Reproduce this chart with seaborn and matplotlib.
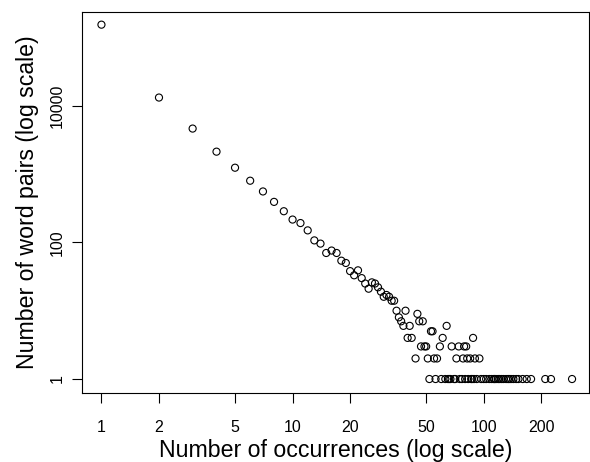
import matplotlib
matplotlib.use("Agg")
import matplotlib.pyplot as plt
import seaborn as sns
import pandas as pd
import numpy as np

# occurrences (x) and number of word pairs (y)
occ_main = list(range(1, 40))
pairs_main = [154000, 13200, 4640, 2130, 1240, 800, 557, 392, 286, 216,
              192, 150, 107, 96, 70, 76, 70, 54, 50, 38,
              33, 39, 30, 25, 21, 26, 25, 22, 19, 16,
              17, 16, 14, 14, 10, 8, 7, 6, 10]
occ_mid = [40, 41, 42, 44, 45, 46, 47, 48, 49, 50, 51, 53, 54, 55, 57, 59,
           61, 64, 68, 72, 74, 78, 79, 81, 82, 85, 88, 90, 95]
pairs_mid = [4, 6, 4, 2, 9, 7, 3, 7, 3, 3, 2, 5, 5, 2, 2, 3,
             4, 6, 3, 2, 3, 2, 3, 3, 2, 2, 4, 2, 2]
occ_single = [52, 56, 60, 63, 65, 66, 67, 70, 71, 75, 77, 80, 83, 86, 87, 89,
              92, 97, 100, 103, 107, 110, 113, 114, 116, 119, 121, 124, 127,
              131, 134, 136, 139, 143, 148, 152, 160, 168, 177, 210, 225, 290]
pairs_single = [1] * len(occ_single)

x_ticks = [1, 2, 5, 10, 20, 50, 100, 200]
y_ticks = [1, 100, 10000]
x_label = "Number of occurrences (log scale)"
y_label = "Number of word pairs (log scale)"

df = pd.DataFrame({
    "occ": occ_main + occ_mid + occ_single,
    "pairs": pairs_main + pairs_mid + pairs_single,
})

sns.set_style("white")
plt.rcParams["font.family"] = ["Liberation Sans", "DejaVu Sans"]
plt.rcParams["text.color"] = "black"
plt.rcParams["axes.labelcolor"] = "black"
plt.rcParams["xtick.color"] = "black"
plt.rcParams["ytick.color"] = "black"

W, H = 590, 462
fig = plt.figure(figsize=(W / 100, H / 100), dpi=100)
left, right, top, bottom = 82.3, 589.3, 12, 393.3
ax = fig.add_axes([left / W, (H - bottom) / H, (right - left) / W, (bottom - top) / H])

sns.scatterplot(data=df, x="occ", y="pairs", ax=ax, marker="o", s=26,
                facecolor="none", edgecolor="black", linewidth=0.8, legend=False)

ax.set_xscale("log")
ax.set_yscale("log")
ax.set_xlim(0.794, 357)
ax.set_ylim(0.618, 236000)

ax.set_xticks(x_ticks)
ax.set_xticklabels([str(v) for v in x_ticks], fontsize=11.5)
ax.set_yticks(y_ticks)
ax.set_yticklabels([str(v) for v in y_ticks], fontsize=11.5, rotation=90, va="center")
ax.minorticks_off()
ax.tick_params(axis="both", which="major", direction="out", length=7, width=0.8,
               color="black", labelcolor="black", left=True, bottom=True)
ax.tick_params(axis="x", pad=12)
ax.tick_params(axis="y", pad=5.7)

for sp in ax.spines.values():
    sp.set_color("black")
    sp.set_linewidth(0.8)

ax.set_xlabel(x_label, fontsize=16.7, labelpad=3, color="black")
ax.set_ylabel(y_label, fontsize=16.7, labelpad=7.5, color="black")

fig.savefig("out.png", dpi=100)
